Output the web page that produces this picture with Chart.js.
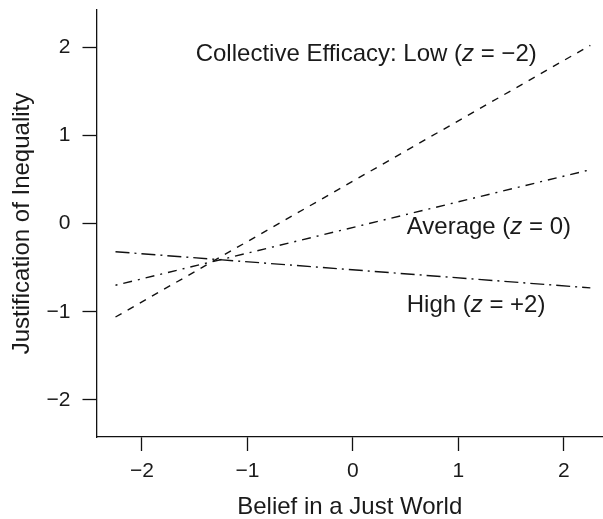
<!DOCTYPE html>
<html lang="en">
<head>
  <meta charset="UTF-8">
  <title>Justification of Inequality</title>
  <script src="https://cdn.jsdelivr.net/npm/chart.js"></script>
  <style>
    body { margin: 0; background: #fff; }
  </style>
</head>
<body>
  <canvas id="chart" width="603" height="519"></canvas>
  <script>
    // belief in a just world (x) at both ends of each fitted line
    const beliefX = [-2.25, 2.25];
    // justification of inequality at those two x values
    const lowY = [-1.06, 2.02];
    const averageY = [-0.70, 0.61];
    const highY = [-0.32, -0.73];

    const xTicks = [-2, -1, 0, 1, 2];
    const yTicks = [-2, -1, 0, 1, 2];

    // label text pieces, the middle one is italic
    const labelParts = [
      ['Collective Efficacy: Low (', 'z', ' = \u22122)'],
      ['Average (', 'z', ' = 0)'],
      ['High (', 'z', ' = +2)']
    ];
    // where each label starts, in data units
    const labelX = [-1.49, 0.51, 0.51];
    const labelY = [1.92, -0.04, -0.93];

    const fontFam = '"Liberation Sans", Arial, Helvetica, sans-serif';

    function pts(ys) {
      return beliefX.map((x, i) => ({ x: x, y: ys[i] }));
    }
    function fmt(v) {
      return v < 0 ? '\u2212' + Math.abs(v) : String(v);
    }

    const labelsPlugin = {
      id: 'lineLabels',
      afterDatasetsDraw(chart) {
        const ctx = chart.ctx;
        const xs = chart.scales.x, ys = chart.scales.y;
        ctx.save();
        ctx.fillStyle = '#1a1a1a';
        ctx.textBaseline = 'middle';
        ctx.textAlign = 'left';
        labelParts.forEach((parts, i) => {
          let px = xs.getPixelForValue(labelX[i]);
          const py = ys.getPixelForValue(labelY[i]);
          parts.forEach((p, j) => {
            ctx.font = (j === 1 ? 'italic ' : '') + '24px ' + fontFam;
            ctx.fillText(p, px, py);
            px += ctx.measureText(p).width;
          });
        });
        ctx.restore();
      }
    };

    const ctx = document.getElementById('chart').getContext('2d');

    new Chart(ctx, {
      type: 'scatter',
      data: {
        datasets: [
          { label: 'Low', data: pts(lowY), borderDash: [7, 7] },
          { label: 'Average', data: pts(averageY), borderDash: [2, 6, 9, 6] },
          { label: 'High', data: pts(highY), borderDash: [14, 5, 2, 5] }
        ].map(d => Object.assign(d, {
          showLine: true,
          borderColor: '#111',
          borderWidth: 1.4,
          pointRadius: 0,
          fill: false
        }))
      },
      options: {
        responsive: false,
        animation: false,
        layout: { padding: { top: 10, left: 0, right: 0, bottom: 0 } },
        plugins: {
          legend: { display: false },
          tooltip: { enabled: false }
        },
        scales: {
          x: {
            type: 'linear',
            min: -2.43,
            max: 2.37,
            afterBuildTicks: s => { s.ticks = xTicks.map(v => ({ value: v })); },
            afterFit: s => { s.height = 82; s.paddingLeft = 0; s.paddingRight = 0; },
            border: { color: '#111', width: 1.3 },
            grid: { drawOnChartArea: false, tickLength: 14, tickColor: '#111', tickWidth: 1.3 },
            ticks: {
              color: '#1a1a1a',
              padding: 8,
              maxRotation: 0,
              font: { family: fontFam, size: 21 },
              callback: v => fmt(v)
            },
            title: {
              display: true,
              text: 'Belief in a Just World',
              color: '#1a1a1a',
              padding: { top: 0, bottom: 0 },
              font: { family: fontFam, size: 24, lineHeight: 1 }
            }
          },
          y: {
            type: 'linear',
            min: -2.42,
            max: 2.42,
            afterBuildTicks: s => { s.ticks = yTicks.map(v => ({ value: v })); },
            afterFit: s => { s.width = 96.5; s.paddingTop = 0; s.paddingBottom = 0; },
            border: { color: '#111', width: 1.3 },
            grid: { drawOnChartArea: false, tickLength: 14, tickColor: '#111', tickWidth: 1.3 },
            ticks: {
              color: '#1a1a1a',
              padding: 12,
              font: { family: fontFam, size: 21 },
              callback: v => fmt(v)
            },
            title: {
              display: true,
              text: 'Justification of Inequality',
              color: '#1a1a1a',
              padding: { top: 10, bottom: 0 },
              font: { family: fontFam, size: 24, lineHeight: 1 }
            }
          }
        }
      },
      plugins: [labelsPlugin]
    });
  </script>
</body>
</html>
